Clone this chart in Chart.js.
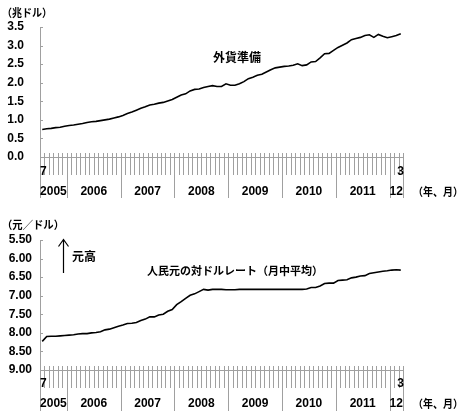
<!DOCTYPE html>
<html><head><meta charset="utf-8">
<script src="https://cdn.jsdelivr.net/npm/chart.js@4.4.1/dist/chart.umd.min.js"></script>
<style>
html,body{margin:0;padding:0;background:#fff;width:466px;height:419px;overflow:hidden}
#c1{position:absolute;left:0;top:0}
#c2{position:absolute;left:0;top:200px}
</style></head><body>
<canvas id="c1" width="466" height="200"></canvas>
<canvas id="c2" width="466" height="219"></canvas>
<script>
// ---- data ----
const categories = [
 '2005/7','2005/8','2005/9','2005/10','2005/11','2005/12',
 '2006/1','2006/2','2006/3','2006/4','2006/5','2006/6','2006/7','2006/8','2006/9','2006/10','2006/11','2006/12',
 '2007/1','2007/2','2007/3','2007/4','2007/5','2007/6','2007/7','2007/8','2007/9','2007/10','2007/11','2007/12',
 '2008/1','2008/2','2008/3','2008/4','2008/5','2008/6','2008/7','2008/8','2008/9','2008/10','2008/11','2008/12',
 '2009/1','2009/2','2009/3','2009/4','2009/5','2009/6','2009/7','2009/8','2009/9','2009/10','2009/11','2009/12',
 '2010/1','2010/2','2010/3','2010/4','2010/5','2010/6','2010/7','2010/8','2010/9','2010/10','2010/11','2010/12',
 '2011/1','2011/2','2011/3','2011/4','2011/5','2011/6','2011/7','2011/8','2011/9','2011/10','2011/11','2011/12',
 '2012/1','2012/2','2012/3'
];
// 外貨準備 (兆ドル)
const reserves = [
 0.74,0.76,0.77,0.79,0.80,0.83,
 0.85,0.86,0.88,0.90,0.93,0.95,0.96,0.98,1.00,1.02,1.05,1.08,
 1.12,1.17,1.21,1.26,1.31,1.35,1.40,1.42,1.45,1.47,1.51,1.55,
 1.61,1.67,1.70,1.78,1.82,1.83,1.87,1.90,1.92,1.90,1.90,1.97,
 1.93,1.93,1.97,2.03,2.11,2.15,2.20,2.23,2.29,2.35,2.40,2.42,
 2.44,2.45,2.47,2.51,2.46,2.48,2.56,2.57,2.67,2.78,2.79,2.87,
 2.95,3.01,3.07,3.16,3.19,3.22,3.27,3.29,3.22,3.30,3.25,3.21,
 3.24,3.27,3.32
];
// 人民元の対ドルレート (元/ドル, 月中平均)
const cnyRate = [
 8.23,8.10,8.09,8.09,8.08,8.07,
 8.06,8.05,8.03,8.02,8.02,8.00,7.99,7.97,7.92,7.90,7.86,7.82,
 7.79,7.75,7.74,7.72,7.67,7.63,7.57,7.57,7.52,7.50,7.42,7.37,
 7.24,7.16,7.07,6.99,6.95,6.89,6.83,6.85,6.83,6.83,6.83,6.84,
 6.84,6.84,6.83,6.83,6.83,6.83,6.83,6.83,6.83,6.83,6.83,6.83,
 6.83,6.83,6.83,6.83,6.83,6.82,6.78,6.78,6.74,6.67,6.66,6.66,
 6.59,6.58,6.57,6.52,6.50,6.47,6.46,6.40,6.38,6.36,6.34,6.33,
 6.31,6.30,6.31
];
const yearLabels = ['2005','2006','2007','2008','2009','2010','2011','12'];
const firstMonthLabel = '7';
const lastMonthLabel = '3';
const reserveTicks = {min:0, max:3.5, step:0.5, digits:1};
const rateTicks = {min:5.5, max:9.0, step:0.5, digits:2};

// ---- drawing ----
const NUMFONT = 'bold 12px "Liberation Sans", Arial, sans-serif';
const JPFONT = (s) => 'bold ' + s + 'px "Noto Sans CJK JP", sans-serif';
const GRAY = '#a0a0a0';

const decoPlugin = {
  id: 'deco',
  afterDraw(chart) {
    const o = chart.options.deco;
    const ctx = chart.ctx, xs = chart.scales.x, ys = chart.scales.y, ca = chart.chartArea;
    const n = chart.data.labels.length;
    const bx = k => k <= 0 ? xs.left : (k >= n ? xs.right : (xs.getPixelForValue(k - 1) + xs.getPixelForValue(k)) / 2);
    ctx.save();
    ctx.strokeStyle = GRAY; ctx.lineWidth = 1;
    ctx.beginPath();
    ctx.moveTo(Math.round(ca.left) + 0.5, ca.top);
    ctx.lineTo(Math.round(ca.left) + 0.5, ca.bottom);
    ctx.moveTo(ca.left, Math.round(ca.bottom) + 0.5);
    ctx.lineTo(ca.right, Math.round(ca.bottom) + 0.5);
    ys.ticks.forEach(t => {
      const y = Math.round(ys.getPixelForValue(t.value)) + 0.5;
      ctx.moveTo(ca.left, y); ctx.lineTo(ca.left + 3, y);
    });
    const yearStarts = [];
    for (let k = 0; k <= n; k++) {
      const isYear = k === 0 || k === n || /\/1$/.test(chart.data.labels[k]);
      if (isYear) yearStarts.push(k);
      const x = Math.round(bx(k)) + 0.5;
      ctx.moveTo(x, ca.bottom - 4);
      ctx.lineTo(x, ca.bottom + (isYear ? o.yearLen : o.monthLen));
    }
    ctx.stroke();

    ctx.fillStyle = '#000';
    ctx.font = NUMFONT;
    ctx.textBaseline = 'middle';
    ctx.textAlign = 'left';
    ctx.fillText(firstMonthLabel, ca.left, ca.bottom + o.monthDy);
    ctx.textAlign = 'right';
    ctx.fillText(lastMonthLabel, ca.right + 1, ca.bottom + o.monthDy);
    ctx.textAlign = 'center';
    for (let i = 0; i < yearStarts.length - 1; i++) {
      const x0 = bx(yearStarts[i]), x1 = bx(yearStarts[i + 1]);
      ctx.fillText(yearLabels[i], (x0 + x1) / 2, ca.bottom + o.yearDy);
    }
    // texts
    o.texts.forEach(t => {
      ctx.font = JPFONT(t.size);
      ctx.textAlign = t.align || 'left';
      if (t.max) ctx.fillText(t.text, t.x, t.y, t.max); else ctx.fillText(t.text, t.x, t.y);
    });
    if (o.arrow) {
      const a = o.arrow;
      ctx.strokeStyle = '#000'; ctx.lineWidth = 1.2;
      ctx.beginPath();
      ctx.moveTo(a.x, a.y1); ctx.lineTo(a.x, a.y0);
      ctx.moveTo(a.x - 5, a.y0 + 7); ctx.lineTo(a.x, a.y0); ctx.lineTo(a.x + 5, a.y0 + 7);
      ctx.stroke();
    }
    ctx.restore();
  }
};

function makeChart(id, data, tk, reverse, pad, tickPad, deco) {
  return new Chart(document.getElementById(id), {
    type: 'line',
    data: { labels: categories, datasets: [{ data: data, borderColor: '#000', borderWidth: 1.6, pointRadius: 0, tension: 0, fill: false }] },
    options: {
      responsive: false, animation: false, devicePixelRatio: 1,
      layout: { padding: pad },
      plugins: { legend: { display: false }, tooltip: { enabled: false } },
      scales: {
        x: { type: 'category', display: false, offset: true },
        y: {
          min: tk.min, max: tk.max, reverse: reverse,
          afterFit(s) { s.width = 40; },
          grid: { display: false, drawTicks: false },
          border: { display: false },
          ticks: { stepSize: tk.step, autoSkip: false, padding: tickPad, color: '#000',
                   font: { family: '"Liberation Sans", Arial, sans-serif', size: 12, weight: 'bold' },
                   callback: v => Number(v).toFixed(tk.digits) }
        }
      },
      deco: deco
    },
    plugins: [decoPlugin]
  });
}

makeChart('c1', reserves, reserveTicks, false, { top: 27, bottom: 43, left: 0, right: 63 }, 16, {
  monthLen: 18, yearLen: 41, monthDy: 15, yearDy: 35,
  texts: [
    { text: '（兆ドル）', x: 2, y: 13, size: 11, max: 50 },
    { text: '外貨準備', x: 237, y: 57, size: 12, align: 'center' },
    { text: '（年、月）', x: 413, y: 192, size: 11, max: 50 }
  ]
});
makeChart('c2', cnyRate, rateTicks, true, { top: 40, bottom: 49, left: 0, right: 63 }, 8, {
  monthLen: 18, yearLen: 41, monthDy: 14, yearDy: 34,
  texts: [
    { text: '（元／ドル）', x: 2, y: 24.5, size: 11, max: 62 },
    { text: '元高', x: 72, y: 56, size: 12 },
    { text: '人民元の対ドルレート（月中平均）', x: 147, y: 71, size: 11, max: 177 },
    { text: '（年、月）', x: 413, y: 204, size: 11, max: 50 }
  ],
  arrow: { x: 63.5, y0: 39.5, y1: 73 }
});
</script>
</body></html>
